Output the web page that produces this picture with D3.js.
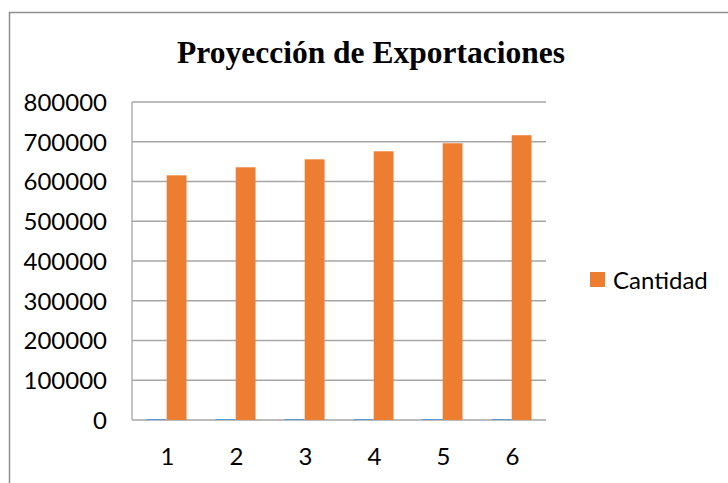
<!DOCTYPE html>
<html>
<head>
<meta charset="utf-8">
<script src="https://cdn.jsdelivr.net/npm/d3@7"></script>
<style>
  html, body { margin: 0; padding: 0; background: #fff; }
  svg { display: block; }
</style>
</head>
<body>
<svg id="chart" width="728" height="483"></svg>
<script>
const title = "Proyección de Exportaciones";
const categories = ["1", "2", "3", "4", "5", "6"];
const seriesNames = ["Serie1", "Cantidad"];
const serie1Values = [2500, 2500, 2500, 2500, 2500, 2500];
const cantidadValues = [615500, 635700, 655800, 676000, 696200, 716400];
const yTicks = [0, 100000, 200000, 300000, 400000, 500000, 600000, 700000, 800000];
const colors = ["#5B9BD5", "#ED7D31"];

(function () {
const svg = d3.select("#chart");
const numFont = "Lato, 'Open Sans', sans-serif";

// outer frame (left and top edges visible)
svg.append("path")
  .attr("d", "M9.5,483 L9.5,12.5 L728,12.5")
  .attr("fill", "none").attr("stroke", "#8f8f8f").attr("stroke-width", 1.5);

// title
svg.append("text")
  .attr("x", 371).attr("y", 63)
  .attr("text-anchor", "middle")
  .attr("font-family", "'Liberation Serif', 'Times New Roman', serif")
  .attr("font-weight", "bold")
  .attr("font-size", 31.5)
  .attr("fill", "#000")
  .text(title);

const pLeft = 132, pRight = 546, pTop = 102, pBottom = 420;

const y = d3.scaleLinear().domain([0, 800000]).range([pBottom, pTop]);
const x = d3.scaleBand().domain(categories).range([pLeft, pRight]).paddingInner(0.42).paddingOuter(0.21);
const xs = d3.scaleBand().domain(seriesNames).range([0, x.bandwidth()]).paddingInner(0.02);

// gridlines
svg.append("g").selectAll("line").data(yTicks).join("line")
  .attr("x1", pLeft).attr("x2", pRight)
  .attr("y1", d => y(d)).attr("y2", d => y(d))
  .attr("stroke", "#a6a6a6").attr("stroke-width", 1.3);

// left axis line
svg.append("line")
  .attr("x1", pLeft).attr("x2", pLeft).attr("y1", pTop).attr("y2", pBottom)
  .attr("stroke", "#a6a6a6").attr("stroke-width", 1.3);

// y tick labels
const yAxis = d3.axisLeft(y).tickValues(yTicks).tickSize(0).tickPadding(0).tickFormat(d3.format("d"));
const gy = svg.append("g").attr("transform", "translate(107,0)").call(yAxis);
gy.select(".domain").remove();
gy.selectAll("text")
  .attr("font-family", numFont).attr("font-size", 24).attr("fill", "#000")
  .attr("dy", "0.35em");

// x tick labels
const xAxis = d3.axisBottom(x).tickSize(0).tickPadding(0);
const gx = svg.append("g").attr("transform", "translate(1,448)").call(xAxis);
gx.select(".domain").remove();
gx.selectAll("text")
  .attr("font-family", numFont).attr("font-size", 24).attr("fill", "#000")
  .attr("dy", "0.71em");

// bars
const data = categories.map((c, i) => ({ c, vals: [serie1Values[i], cantidadValues[i]] }));
const groups = svg.append("g").selectAll("g").data(data).join("g")
  .attr("transform", d => `translate(${x(d.c)},0)`);
groups.selectAll("rect").data(d => d.vals.map((v, j) => ({ v, j })))
  .join("rect")
  .attr("x", d => xs(seriesNames[d.j]))
  .attr("width", xs.bandwidth())
  .attr("y", d => y(d.v))
  .attr("height", d => Math.max(0, y(0) - y(d.v)))
  .attr("fill", d => colors[d.j]);

// legend
svg.append("rect").attr("x", 590).attr("y", 272).attr("width", 15).attr("height", 15).attr("fill", colors[1]);
svg.append("text").attr("x", 613).attr("y", 289)
  .attr("font-family", numFont).attr("font-size", 24).attr("fill", "#000")
  .text(seriesNames[1]);
})();
</script>
</body>
</html>
